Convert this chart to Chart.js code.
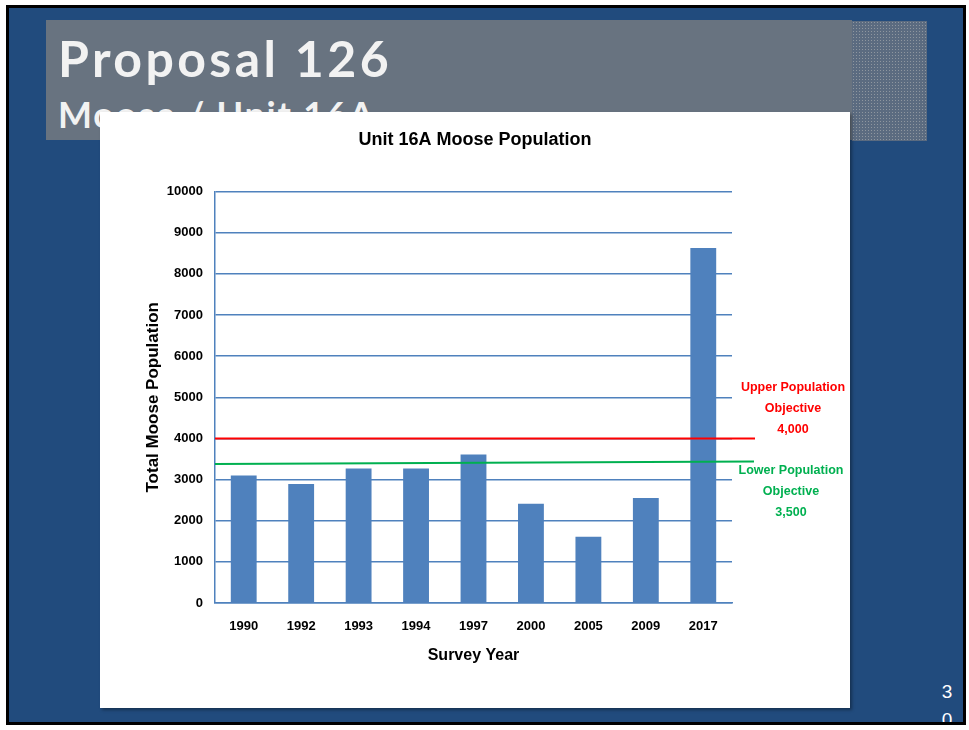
<!DOCTYPE html>
<html>
<head>
<meta charset="utf-8">
<script src="https://cdn.jsdelivr.net/npm/chart.js@4/dist/chart.umd.min.js"></script>
<style>
  body { margin: 0; background: #fff; width: 969px; height: 730px; overflow: hidden; }
  #slide { position: absolute; left: 6px; top: 5px; width: 954px; height: 714px; border: 3px solid #000; background: #214B7D; overflow: hidden; }
  #titleBox { position: absolute; left: 37px; top: 12px; width: 806px; height: 120px; background: #687380; }
  #dots { position: absolute; left: 843px; top: 13px; width: 75px; height: 120px; background-color: #5b6b80;
          background-image: radial-gradient(#8e969f 30%, transparent 45%); background-size: 3px 3px; }
  #heading { position: absolute; left: 49px; top: 20px; color: #f2f2f2; font-family: Lato, sans-serif; font-weight: bold; font-size: 50px; letter-spacing: 3.4px; line-height: 60px; white-space: nowrap; }
  #subheading { position: absolute; left: 49px; top: 84px; color: #f2f2f2; font-family: Lato, sans-serif; font-weight: bold; font-size: 36px; letter-spacing: 1.8px; line-height: 44px; white-space: nowrap; }
  #chartBox { position: absolute; left: 91px; top: 104px; width: 750px; height: 596px; background: #fff; box-shadow: 2px 2px 3px rgba(0,0,0,0.35); }
  #pageNum { position: absolute; left: 928px; top: 670px; width: 20px; color: #fff; font-family: 'Liberation Sans', Arial, sans-serif; font-size: 19px; line-height: 28px; text-align: center; }
</style>
</head>
<body>
<div id="slide">
  <div id="titleBox"></div>
  <div id="dots"></div>
  <div id="heading">Proposal 126</div>
  <div id="subheading">Moose / Unit 16A</div>
  <div id="chartBox"><canvas id="mooseChart"></canvas></div>
  <div id="pageNum">3<br>0</div>
</div>
<script>
// values
var surveyYears = ['1990', '1992', '1993', '1994', '1997', '2000', '2005', '2009', '2017'];
var moosePopulation = [3100, 2890, 3270, 3270, 3610, 2410, 1610, 2550, 8630];
var upperObjective = 4000;
var lowerObjectiveLine = [3380, 3440]; // drawn slightly sloped in the original
var upperLabel = ['Upper Population', 'Objective', '4,000'];
var lowerLabel = ['Lower Population', 'Objective', '3,500'];

var fontFamily = "'Liberation Sans', Arial, sans-serif";
var barBlue = '#4F81BD';
var red = '#FF0000';
var green = '#00B050';

var objectivePlugin = {
  id: 'objectives',
  afterDatasetsDraw: function(chart) {
    var ctx = chart.ctx;
    var area = chart.chartArea;
    var y = chart.scales.y;
    var yUpper = y.getPixelForValue(upperObjective);
    var yLow0 = y.getPixelForValue(lowerObjectiveLine[0]);
    var yLow1 = y.getPixelForValue(lowerObjectiveLine[1]);

    ctx.save();
    ctx.lineWidth = 2;
    ctx.strokeStyle = red;
    ctx.beginPath();
    ctx.moveTo(area.left, yUpper);
    ctx.lineTo(area.right + 23, yUpper);
    ctx.stroke();

    ctx.strokeStyle = green;
    ctx.beginPath();
    ctx.moveTo(area.left, yLow0);
    ctx.lineTo(area.right + 22, yLow1);
    ctx.stroke();

    ctx.font = 'bold 12.5px ' + fontFamily;
    ctx.textAlign = 'center';
    ctx.textBaseline = 'middle';
    ctx.fillStyle = red;
    upperLabel.forEach(function(t, i) {
      ctx.fillText(t, area.right + 61, yUpper - 51 + i * 21);
    });
    ctx.fillStyle = green;
    lowerLabel.forEach(function(t, i) {
      ctx.fillText(t, area.right + 59, yLow1 + 9 + i * 21);
    });
    ctx.restore();
  }
};

var el = document.getElementById('mooseChart');
new Chart(el, {
  type: 'bar',
  data: {
    labels: surveyYears,
    datasets: [{
      label: 'Total Moose Population',
      data: moosePopulation,
      backgroundColor: barBlue,
      barPercentage: 0.45,
      categoryPercentage: 1.0
    }]
  },
  options: {
    responsive: true,
    maintainAspectRatio: false,
    animation: false,
    layout: { padding: 0 },
    plugins: {
      legend: { display: false },
      tooltip: { enabled: false },
      title: {
        display: true,
        text: 'Unit 16A Moose Population',
        color: '#000',
        font: { family: fontFamily, size: 18, weight: 'bold' },
        padding: { top: 17, bottom: 41 }
      }
    },
    scales: {
      x: {
        grid: { display: false, drawTicks: false },
        border: { color: barBlue, width: 1.5 },
        ticks: { color: '#000', padding: 16, font: { family: fontFamily, size: 13, weight: 'bold' } },
        title: {
          display: true, text: 'Survey Year', color: '#000',
          font: { family: fontFamily, size: 16, weight: 'bold' },
          padding: { top: 0, bottom: 43 }
        },
        afterFit: function(s) { s.height = 105; }
      },
      y: {
        min: 0,
        max: 10000,
        grid: { color: barBlue, lineWidth: 1.5, drawTicks: false },
        border: { color: barBlue, width: 1.5 },
        ticks: {
          stepSize: 1000, color: '#000', padding: 12,
          font: { family: fontFamily, size: 13, weight: 'bold' },
          callback: function(v) { return String(v); }
        },
        title: {
          display: true, text: 'Total Moose Population', color: '#000',
          font: { family: fontFamily, size: 17, weight: 'bold' },
          padding: { top: 43, bottom: 0 }
        },
        afterFit: function(s) { s.width = 115; }
      },
      // empty right-hand axis: keeps room for the objective labels
      side: {
        type: 'linear',
        position: 'right',
        grid: { display: false, drawOnChartArea: false, drawTicks: false },
        border: { display: false },
        ticks: { display: false },
        afterFit: function(s) { s.width = 118; }
      }
    }
  },
  plugins: [objectivePlugin]
});
</script>
</body>
</html>
